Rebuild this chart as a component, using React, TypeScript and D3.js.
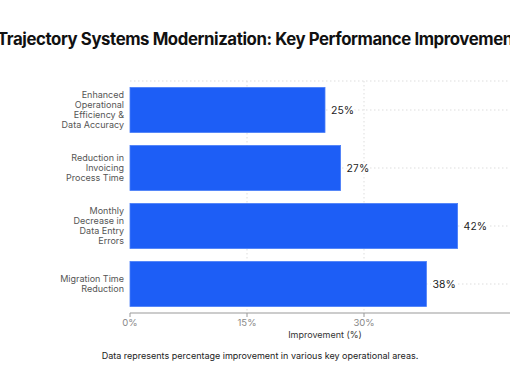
import React from "react";
import * as d3 from "d3";

const categories: string[][] = [
  ["Enhanced", "Operational", "Efficiency &", "Data Accuracy"],
  ["Reduction in", "Invoicing", "Process Time"],
  ["Monthly", "Decrease in", "Data Entry", "Errors"],
  ["Migration Time", "Reduction"],
];
const values: number[] = [25, 27, 42, 38];
const tickValues: number[] = [0, 15, 30];
const title = "Trajectory Systems Modernization: Key Performance Improvements";
const xLabel = "Improvement (%)";
const caption = "Data represents percentage improvement in various key operational areas.";

const W = 510;
const H = 382;
const left = 130;
const right = 520;
const top = 81;
const bottom = 313;
const font = "Inter, 'Noto Sans', sans-serif";

export default function App() {
  const x = d3.scaleLinear().domain([0, 50]).range([left, right]);
  const keys = categories.map((_, i) => String(i));
  const y = d3.scaleBand<string>().domain(keys).range([top, bottom]).paddingInner(0.224).paddingOuter(0.112);
  const lineH = 9.8;
  return (
    <svg width={W} height={H} style={{ position: "absolute", left: 0, top: 0, background: "#fff" }} fontFamily={font}>
      <rect x={0} y={0} width={W} height={H} fill="#fff" />
      <text x={-3} y={45} fontSize={16.8} fontWeight={700} fill="#111" letterSpacing={-0.42}>
        {title}
      </text>
      {/* grid */}
      <line x1={left} x2={right} y1={top} y2={top} stroke="#ddd" strokeDasharray="1.5,2.5" />
      {tickValues.filter((t) => t > 0).map((t) => (
        <line key={t} x1={x(t)} x2={x(t)} y1={top} y2={bottom} stroke="#ddd" strokeDasharray="1.5,2.5" />
      ))}
      {keys.map((k) => (
        <line key={k} x1={left} x2={right} y1={y(k)! + y.bandwidth() / 2} y2={y(k)! + y.bandwidth() / 2} stroke="#ddd" strokeDasharray="1.5,2.5" />
      ))}
      {/* bars */}
      {keys.map((k, i) => (
        <rect key={k} x={x(0)} y={y(k)} width={x(values[i]) - x(0)} height={y.bandwidth()} fill="#1d5ef6" stroke="#4a7ef8" strokeWidth={0.8} />
      ))}
      {keys.map((k, i) => (
        <text
          key={k}
          x={x(values[i]) + 6}
          y={y(k)! + y.bandwidth() / 2}
          dy="0.35em"
          fontSize={10.5}
          fill="#222"
          stroke="#fff"
          strokeWidth={4}
          style={{ paintOrder: "stroke" }}
        >
          {values[i]}%
        </text>
      ))}
      {/* category labels */}
      {keys.map((k, i) => {
        const lines = categories[i];
        const cy = y(k)! + y.bandwidth() / 2;
        const y0 = cy - ((lines.length - 1) * lineH) / 2;
        return (
          <text key={k} x={124} textAnchor="end" fontSize={9} fill="#555">
            {lines.map((l, j) => (
              <tspan key={j} x={124} y={y0 + j * lineH} dy="0.35em">
                {l}
              </tspan>
            ))}
          </text>
        );
      })}
      {/* axis */}
      <line x1={left} x2={right} y1={bottom} y2={bottom} stroke="#999" strokeWidth={1} />
      {tickValues.map((t) => (
        <g key={t}>
          <line x1={x(t)} x2={x(t)} y1={bottom} y2={bottom + 4} stroke="#999" />
          <text x={x(t)} y={bottom + 13} textAnchor="middle" fontSize={9.5} fill="#888">
            {t}%
          </text>
        </g>
      ))}
      <text x={(left + right) / 2} y={bottom + 25} textAnchor="middle" fontSize={9} fill="#333">
        {xLabel}
      </text>
      <text x={260} y={359} textAnchor="middle" fontSize={9} fill="#222">
        {caption}
      </text>
    </svg>
  );
}
